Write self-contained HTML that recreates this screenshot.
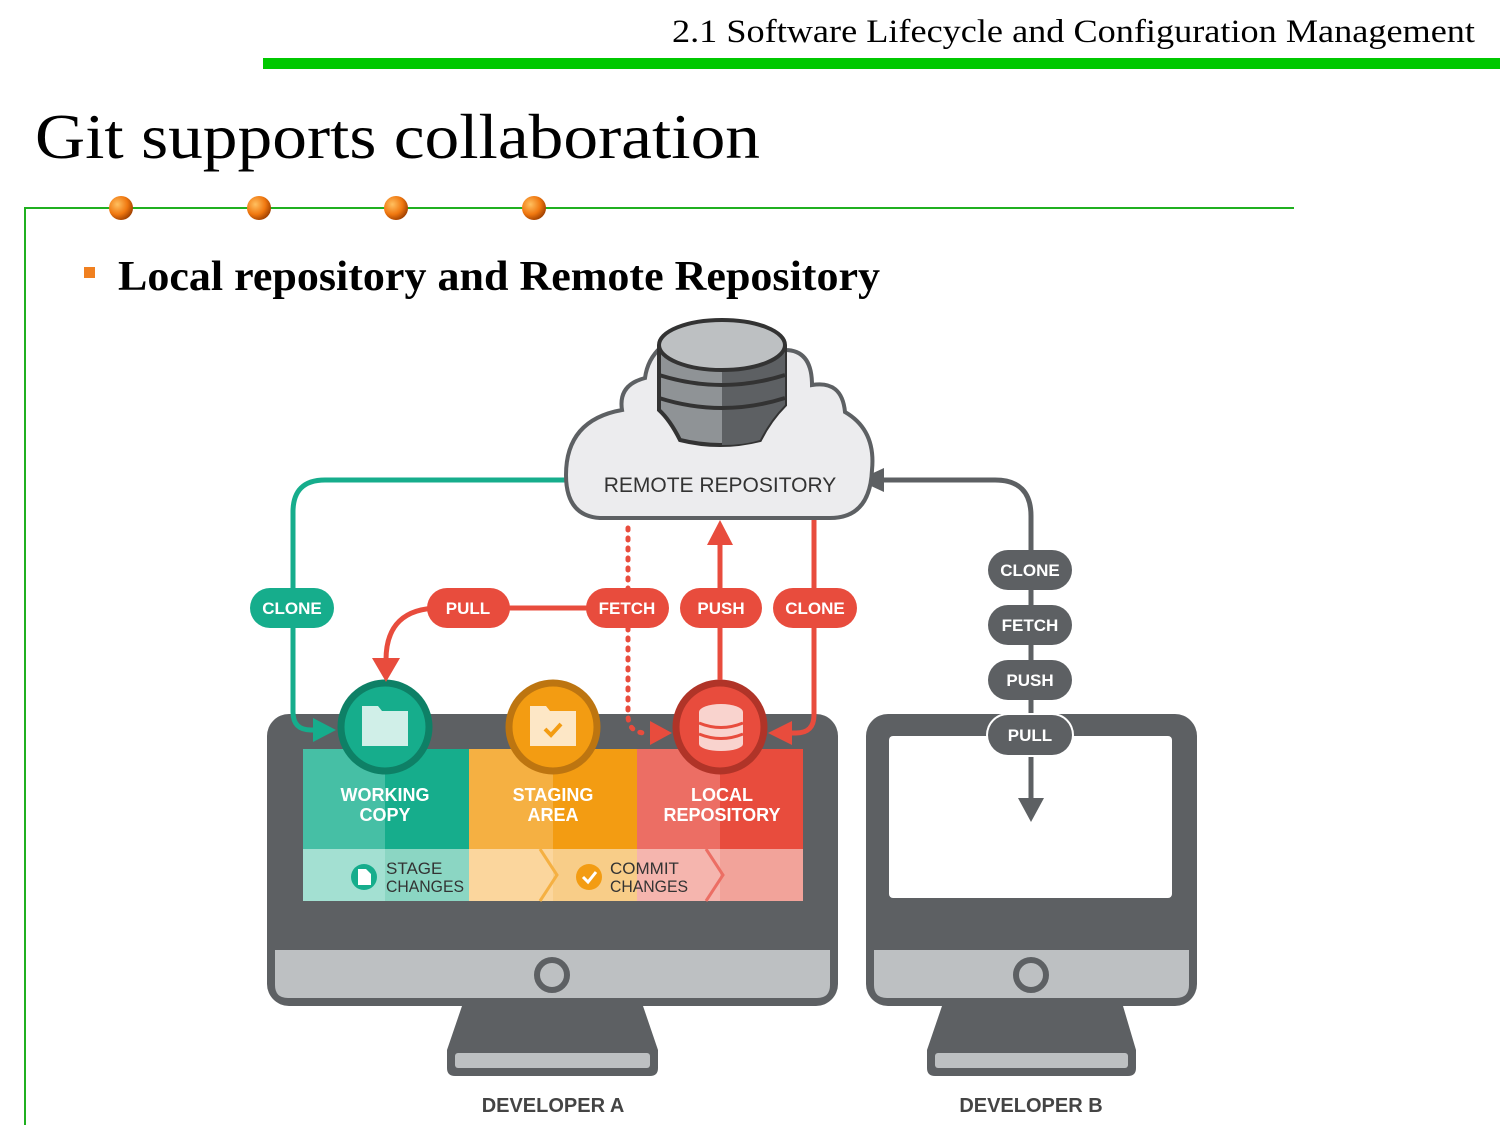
<!DOCTYPE html>
<html><head><meta charset="utf-8"><style>
html,body{margin:0;padding:0;background:#fff;width:1500px;height:1125px;overflow:hidden}
svg{display:block}
.s{font-family:"Liberation Sans",sans-serif;font-weight:bold}
</style></head><body>
<svg width="1500" height="1125" viewBox="0 0 1500 1125" xmlns="http://www.w3.org/2000/svg">
<defs>
<radialGradient id="ball" cx="0.35" cy="0.35" r="0.7"><stop offset="0" stop-color="#ffc060"/><stop offset="0.6" stop-color="#f07810"/><stop offset="1" stop-color="#a04000"/></radialGradient>
</defs>
<text x="672" y="42" textLength="803" lengthAdjust="spacingAndGlyphs" font-family="Liberation Serif,serif" font-size="33" fill="#000">2.1 Software Lifecycle and Configuration Management</text>
<rect x="263" y="58" width="1237" height="11" fill="#00c800"/>
<text x="35" y="158" textLength="725" lengthAdjust="spacingAndGlyphs" font-family="Liberation Serif,serif" font-size="64" fill="#000">Git supports collaboration</text>
<line x1="24" y1="208" x2="1294" y2="208" stroke="#20b020" stroke-width="2"/>
<line x1="25" y1="207" x2="25" y2="1125" stroke="#20b020" stroke-width="2"/>
<circle cx="121" cy="208" r="12" fill="url(#ball)"/><circle cx="259" cy="208" r="12" fill="url(#ball)"/><circle cx="396" cy="208" r="12" fill="url(#ball)"/><circle cx="534" cy="208" r="12" fill="url(#ball)"/>
<rect x="84" y="267" width="11" height="11" fill="#f08020"/>
<text x="118" y="290" textLength="762" lengthAdjust="spacingAndGlyphs" font-family="Liberation Serif,serif" font-weight="bold" font-size="42" fill="#000">Local repository and Remote Repository</text>

<!-- Monitor A -->
<rect x="267" y="714" width="571" height="292" rx="22" fill="#5d6063"/>
<path d="M275 950 H830 V985 Q830 998 817 998 H288 Q275 998 275 985Z" fill="#bdc0c2"/>
<circle cx="552" cy="975" r="15" fill="none" stroke="#5d6063" stroke-width="6"/>
<path d="M462 1006 H643 L658 1050 V1068 Q658 1076 650 1076 H455 Q447 1076 447 1068 V1050Z" fill="#5d6063"/>
<rect x="455" y="1053" width="195" height="15" rx="3" fill="#bdc0c2"/>
<!-- panels -->
<rect x="303" y="749" width="82" height="100" fill="#46bfa5"/><rect x="385" y="749" width="84" height="100" fill="#16ad8c"/>
<rect x="469" y="749" width="84" height="100" fill="#f5b042"/><rect x="553" y="749" width="84" height="100" fill="#f39c12"/>
<rect x="637" y="749" width="83" height="100" fill="#ec6e64"/><rect x="720" y="749" width="83" height="100" fill="#e84c3d"/>
<rect x="303" y="849" width="82" height="52" fill="#a3e0d2"/><rect x="385" y="849" width="84" height="52" fill="#8bd6c3"/>
<rect x="469" y="849" width="84" height="52" fill="#fbd69d"/><rect x="553" y="849" width="84" height="52" fill="#f8cd88"/>
<rect x="637" y="849" width="83" height="52" fill="#f5b5ae"/><rect x="720" y="849" width="83" height="52" fill="#f2a39a"/>
<path d="M540 849 L557 875 L540 901" fill="none" stroke="#f5b042" stroke-width="3"/>
<path d="M706 849 L723 875 L706 901" fill="none" stroke="#ec6e64" stroke-width="3"/>
<g class="s" font-size="18" fill="#fff" text-anchor="middle">
<text x="385" y="801">WORKING</text><text x="385" y="821">COPY</text>
<text x="553" y="801">STAGING</text><text x="553" y="821">AREA</text>
<text x="722" y="801">LOCAL</text><text x="722" y="821">REPOSITORY</text>
</g>
<g font-family="Liberation Sans,sans-serif" font-size="17" fill="#333">
<text x="386" y="874">STAGE</text><text x="386" y="892" textLength="78" lengthAdjust="spacingAndGlyphs">CHANGES</text>
<text x="610" y="874">COMMIT</text><text x="610" y="892" textLength="78" lengthAdjust="spacingAndGlyphs">CHANGES</text>
</g>
<circle cx="364" cy="877" r="13" fill="#16ad8c"/><path d="M358 869 H366 L371 874 V885 H358Z" fill="#fff"/>
<circle cx="589" cy="877" r="13" fill="#f39c12"/><path d="M583 877 L588 882 L596 872" fill="none" stroke="#fff" stroke-width="3"/>
<!-- circles -->
<circle cx="385" cy="727" r="44" fill="#16ad8c" stroke="#0e8066" stroke-width="7"/>
<path d="M362 706 H378 L382 711 H408 V746 H362Z" fill="#d0efe8"/>
<circle cx="553" cy="727" r="44" fill="#f39c12" stroke="#bd7510" stroke-width="7"/>
<path d="M530 706 H546 L550 711 H576 V746 H530Z" fill="#fde7c6"/><path d="M545 729 L551 735 L561 724" fill="none" stroke="#f39c12" stroke-width="4"/>
<circle cx="720" cy="727" r="44" fill="#e84c3d" stroke="#b03428" stroke-width="7"/>
<g fill="#f9d3ce"><ellipse cx="721" cy="712" rx="22" ry="8"/><rect x="699" y="712" width="44" height="32"/><ellipse cx="721" cy="744" rx="22" ry="7"/></g>
<g stroke="#e84c3d" stroke-width="3" fill="none"><path d="M699 723 Q721 732 743 723"/><path d="M699 734 Q721 743 743 734"/></g>

<!-- Monitor B -->
<rect x="866" y="714" width="331" height="292" rx="22" fill="#5d6063"/>
<rect x="889" y="736" width="283" height="162" rx="4" fill="#fff"/>
<path d="M874 950 H1189 V985 Q1189 998 1176 998 H887 Q874 998 874 985Z" fill="#bdc0c2"/>
<circle cx="1031" cy="975" r="15" fill="none" stroke="#5d6063" stroke-width="6"/>
<path d="M942 1006 H1123 L1136 1050 V1068 Q1136 1076 1128 1076 H935 Q927 1076 927 1068 V1050Z" fill="#5d6063"/>
<rect x="935" y="1053" width="193" height="15" rx="3" fill="#bdc0c2"/>

<!-- connectors -->
<path d="M870 480 H995 Q1031 480 1031 516 V800" fill="none" stroke="#5d6063" stroke-width="5"/>
<path d="M858 480 L884 468 V492Z" fill="#5d6063"/>
<path d="M1018 798 H1044 L1031 822Z" fill="#5d6063"/>
<path d="M570 480 H325 Q293 480 293 512 V712 Q293 730 311 730 H320" fill="none" stroke="#16ad8c" stroke-width="5"/>
<path d="M336 730 L313 718 V742Z" fill="#16ad8c"/>
<path d="M590 608 H440 Q386 608 386 660" fill="none" stroke="#e84c3d" stroke-width="5"/>
<path d="M372 658 H400 L386 682Z" fill="#e84c3d"/>
<path d="M628 528 V715 Q628 733 646 733" fill="none" stroke="#e84c3d" stroke-width="5" stroke-dasharray="2 8" stroke-linecap="round"/>
<path d="M672 733 L650 721 V745Z" fill="#e84c3d"/>
<path d="M720 680 V540" fill="none" stroke="#e84c3d" stroke-width="5"/>
<path d="M707 545 H733 L720 520Z" fill="#e84c3d"/>
<path d="M814 520 V715 Q814 733 796 733 H786" fill="none" stroke="#e84c3d" stroke-width="5"/>
<path d="M768 733 L792 721 V745Z" fill="#e84c3d"/>

<!-- cloud -->
<path d="M600 518 Q566 516 566 475 Q566 420 622 410 Q618 385 645 378 Q650 340 700 330 Q770 318 785 350 Q812 350 812 385 Q842 380 845 412 Q876 430 872 470 Q870 518 830 518Z" fill="#ececee" stroke="#5d6063" stroke-width="4"/>
<g stroke="#333" stroke-width="4">
<path d="M659 345 V410 Q670 420 680 440 Q720 450 760 440 Q770 420 785 405 V345" fill="#8f9396"/>
<path d="M722 350 V445 Q745 445 760 440 Q770 420 785 405 V345Z" fill="#5d6063" stroke="none"/>
<path d="M659 375 Q722 395 785 375 M659 398 Q722 418 785 398" fill="none"/>
<ellipse cx="722" cy="345" rx="63" ry="25" fill="#bdc0c2"/>
</g>
<text x="720" y="492" text-anchor="middle" font-family="Liberation Sans,sans-serif" font-size="21" fill="#333">REMOTE REPOSITORY</text>

<!-- pills -->
<g class="s" font-size="17" fill="#fff" text-anchor="middle">
<rect x="250" y="588" width="84" height="40" rx="20" fill="#16ad8c"/><text x="292" y="614">CLONE</text>
<rect x="427" y="588" width="83" height="40" rx="20" fill="#e84c3d"/><text x="468" y="614">PULL</text>
<rect x="586" y="588" width="83" height="40" rx="20" fill="#e84c3d"/><text x="627" y="614">FETCH</text>
<rect x="680" y="588" width="82" height="40" rx="20" fill="#e84c3d"/><text x="721" y="614">PUSH</text>
<rect x="773" y="588" width="84" height="40" rx="20" fill="#e84c3d"/><text x="815" y="614">CLONE</text>
<rect x="988" y="550" width="84" height="40" rx="20" fill="#5d6063"/><text x="1030" y="576">CLONE</text>
<rect x="988" y="605" width="84" height="40" rx="20" fill="#5d6063"/><text x="1030" y="631">FETCH</text>
<rect x="988" y="660" width="84" height="40" rx="20" fill="#5d6063"/><text x="1030" y="686">PUSH</text>
<rect x="986" y="713" width="88" height="44" rx="22" fill="#fff"/>
<rect x="988" y="715" width="84" height="40" rx="20" fill="#5d6063"/><text x="1030" y="741">PULL</text>
</g>
<g class="s" font-size="20" fill="#444" text-anchor="middle">
<text x="553" y="1112">DEVELOPER A</text><text x="1031" y="1112">DEVELOPER B</text>
</g>
</svg>
</body></html>
